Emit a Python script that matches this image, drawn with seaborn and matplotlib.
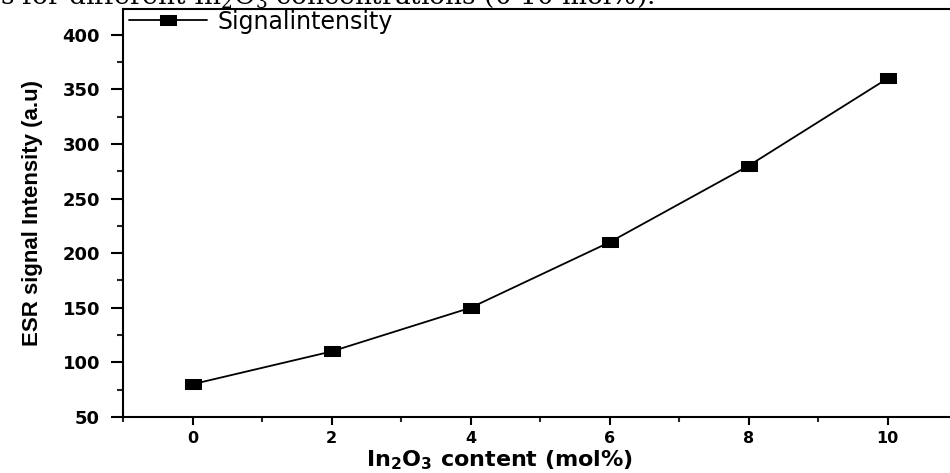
import matplotlib
matplotlib.use("Agg")
import matplotlib.pyplot as plt
from matplotlib.ticker import MultipleLocator
import seaborn as sns
import pandas as pd

# In2O3 content (mol%) and measured ESR signal intensity (a.u)
content = [0, 2, 4, 6, 8, 10]
intensity = [80, 110, 150, 210, 280, 360]
series_name = "Signalintensity"
caption = "s for different In$_2$O$_3$ concentrations (0-10 mol%)."

df = pd.DataFrame({"content": content, "intensity": intensity})

sns.set_theme(style="ticks")
plt.rcParams["font.family"] = ["DejaVu Sans"]
plt.rcParams["mathtext.default"] = "regular"

fig = plt.figure(figsize=(9.5, 4.73), dpi=100)
ax = fig.add_axes([0.1295, 0.1184, 0.878, 0.8636])

# flat rectangular marker, wider than tall
rect = [(-0.8, -0.5), (0.8, -0.5), (0.8, 0.5), (-0.8, 0.5), (-0.8, -0.5)]

sns.lineplot(data=df, x="content", y="intensity", ax=ax, color="black",
             linewidth=1.3, marker=rect, markersize=11,
             markerfacecolor="black", markeredgecolor="black",
             label=series_name)

ax.set_xlim(-1, 11)
ax.set_ylim(50, 424)
ax.xaxis.set_major_locator(MultipleLocator(2))
ax.xaxis.set_minor_locator(MultipleLocator(1))
ax.yaxis.set_major_locator(MultipleLocator(50))
ax.yaxis.set_minor_locator(MultipleLocator(25))

for side in ax.spines.values():
    side.set_linewidth(1.5)
    side.set_color("black")

ax.tick_params(axis="x", which="major", direction="out", length=6, width=1.5,
               pad=4, labelsize=11.5, colors="black")
ax.tick_params(axis="x", which="minor", direction="out", length=3.5, width=1.5)
ax.tick_params(axis="y", which="major", direction="out", length=8.5, width=1.5,
               pad=8, labelsize=13, colors="black")
ax.tick_params(axis="y", which="minor", direction="out", length=4.5, width=1.5)
for lab in ax.get_xticklabels() + ax.get_yticklabels():
    lab.set_fontweight("bold")

ax.set_xlabel("In$_2$O$_3$ content (mol%)", fontsize=16, fontweight="bold",
              color="black")
ax.xaxis.set_label_coords(0.452, -0.076, transform=ax.transAxes)
ax.set_ylabel("ESR signal Intensity (a.u)", fontsize=16, fontweight="bold",
              family=["Liberation Sans"], color="black")
ax.yaxis.set_label_coords(-0.0955, 0.5, transform=ax.transAxes)

leg = ax.legend(loc="upper left", bbox_to_anchor=(0.006, 1.0), frameon=False,
                fontsize=17, handlelength=3.3, handletextpad=0.45,
                borderpad=0.05, borderaxespad=0.0)
for t in leg.get_texts():
    t.set_color("black")

fig.text(0.0, 1 - 4 / 473, caption, ha="left", va="baseline",
         family="DejaVu Serif", fontsize=19, color="black")

fig.savefig("out.png", dpi=100)
